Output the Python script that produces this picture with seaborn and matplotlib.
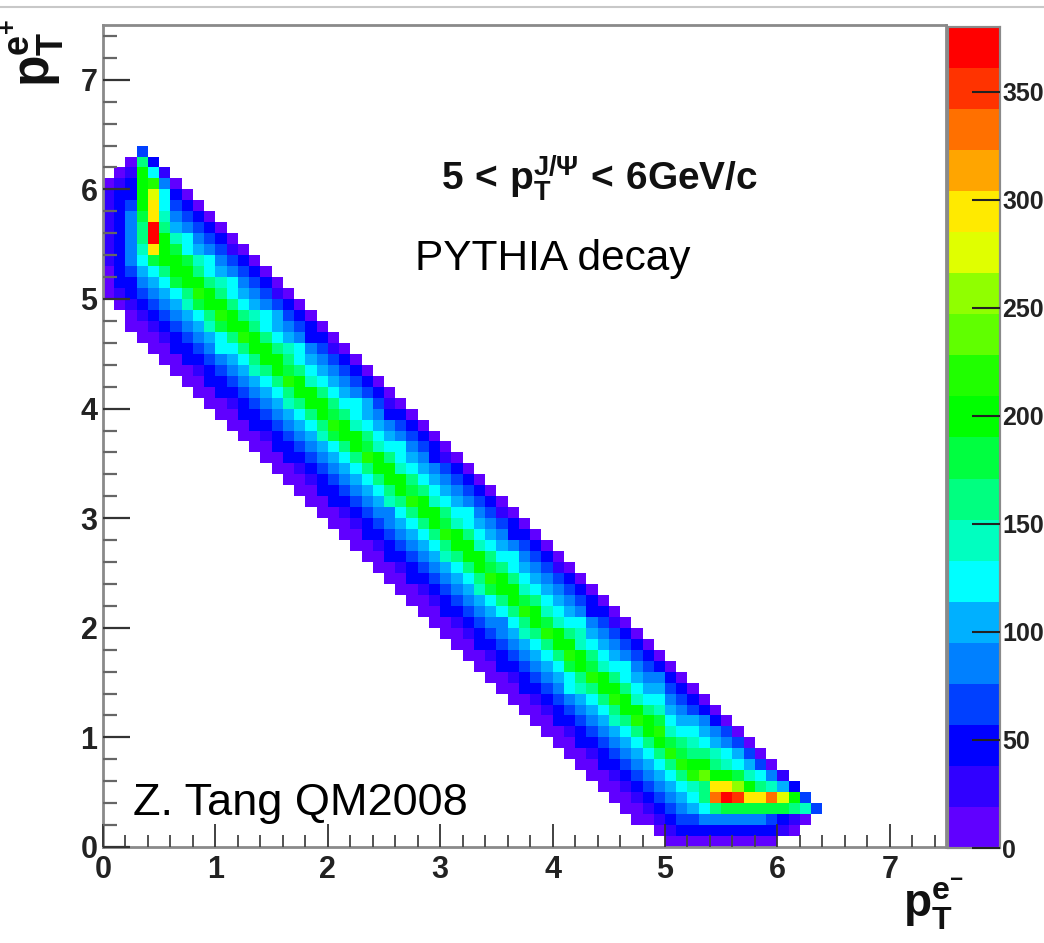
import numpy as np
import pandas as pd
import seaborn as sns
import matplotlib
matplotlib.use("Agg")
import matplotlib.pyplot as plt
from matplotlib.colors import ListedColormap, BoundaryNorm
from matplotlib.lines import Line2D
from matplotlib.ticker import MultipleLocator

# colour levels of the scale, bottom to top
level_colors = ["#6000ff", "#3000ff", "#0000ff", "#0040ff", "#0080ff", "#00b0ff", "#00ffff",
                "#00ffc0", "#00ff80", "#00ff40", "#00ff00", "#20ff00", "#60ff00", "#90ff00",
                "#e0ff00", "#ffea00", "#ffa500", "#ff7000", "#ff3300", "#ff0000"]
scale_top = 380
scale_ticks = [0, 50, 100, 150, 200, 250, 300, 350]
axis_ticks = [0, 1, 2, 3, 4, 5, 6, 7]

# counts per 0.1 x 0.1 cell: (x column, first y row, values going up)
left_columns = [
    (0, 50, [12, 15, 18, 25, 30, 30, 32, 30, 25, 20, 10]),
    (1, 49, [12, 30, 40, 45, 50, 52, 50, 55, 50, 45, 40, 25, 12]),
    (2, 47, [12, 12, 30, 40, 55, 65, 78, 88, 92, 90, 80, 70, 55, 40, 25, 12]),
    (3, 46, [12, 12, 35, 50, 65, 85, 100, 120, 150, 165, 170, 180, 190, 195, 190, 190, 170, 60]),
    (4, 45, [12, 12, 35, 50, 60, 80, 100, 125, 175, 300, 370, 370, 300, 285, 270, 210, 130, 40]),
    (5, 44, [12, 12, 35, 50, 65, 85, 100, 125, 165, 195, 205, 190, 170, 150, 130, 115, 85, 25]),
]
# columns x = 0.6 ... 4.4; each list runs across the band, from just below x+y = 5 upwards
mid_columns = [
    [12, 12, 38, 52, 72, 88, 112, 132, 172, 204, 205, 175, 138, 112, 88, 65, 40, 12],
    [12, 12, 40, 50, 72, 92, 108, 136, 168, 200, 208, 178, 132, 118, 90, 62, 42, 14],
    [12, 14, 36, 55, 68, 90, 112, 130, 176, 210, 198, 165, 138, 108, 88, 68, 38, 12],
    [12, 12, 40, 50, 75, 90, 104, 140, 165, 202, 206, 168, 130, 114, 94, 62, 44, 15],
    [12, 12, 38, 56, 66, 88, 115, 126, 178, 212, 194, 170, 134, 104, 84, 66, 40, 13],
    [12, 15, 35, 50, 72, 94, 106, 132, 160, 198, 205, 160, 132, 116, 90, 60, 36, 12],
    [12, 12, 38, 54, 62, 84, 108, 124, 170, 214, 192, 166, 124, 108, 86, 70, 42, 14],
    [12, 12, 40, 48, 70, 88, 100, 138, 162, 200, 200, 160, 136, 102, 92, 60, 38, 12],
    [12, 13, 34, 56, 68, 82, 112, 120, 168, 208, 194, 155, 128, 114, 82, 64, 44, 15],
    [12, 12, 38, 50, 60, 92, 102, 130, 155, 198, 208, 165, 124, 104, 96, 58, 36, 12],
    [12, 14, 40, 46, 66, 80, 106, 135, 170, 212, 188, 158, 134, 110, 80, 68, 40, 13],
    [12, 12, 34, 52, 72, 86, 98, 122, 160, 196, 204, 165, 120, 116, 90, 62, 42, 16],
    [12, 12, 36, 48, 60, 90, 110, 126, 155, 206, 196, 150, 130, 102, 88, 56, 38, 12],
    [12, 15, 38, 55, 64, 78, 100, 138, 165, 202, 192, 160, 122, 108, 94, 66, 44, 14],
    [12, 12, 42, 46, 70, 84, 96, 120, 172, 214, 186, 152, 128, 112, 78, 60, 36, 12],
    [12, 12, 32, 50, 62, 92, 108, 124, 155, 196, 206, 165, 118, 100, 90, 70, 40, 13],
    [12, 13, 36, 52, 58, 80, 104, 132, 160, 204, 194, 148, 132, 116, 84, 58, 42, 15],
    [12, 12, 40, 46, 68, 76, 98, 118, 168, 210, 184, 158, 122, 104, 96, 62, 38, 12],
    [12, 14, 34, 56, 60, 88, 112, 128, 152, 194, 204, 150, 116, 110, 86, 66, 44, 14],
    [12, 12, 38, 48, 66, 82, 94, 136, 164, 206, 190, 162, 126, 98, 80, 54, 36, 12],
    [12, 12, 35, 50, 72, 80, 106, 122, 156, 198, 208, 145, 130, 114, 92, 64, 40, 13],
    [12, 15, 41, 46, 60, 90, 96, 130, 170, 214, 188, 156, 118, 106, 88, 60, 42, 16],
    [12, 12, 33, 54, 64, 84, 110, 116, 152, 196, 198, 162, 124, 100, 82, 68, 38, 12],
    [12, 12, 37, 50, 70, 78, 100, 126, 162, 206, 192, 148, 132, 112, 94, 56, 44, 14],
    [12, 13, 39, 46, 62, 92, 96, 138, 168, 212, 186, 158, 116, 108, 84, 62, 36, 12],
    [12, 12, 34, 52, 58, 80, 108, 120, 155, 194, 204, 146, 128, 102, 90, 70, 40, 13],
    [12, 14, 36, 48, 68, 86, 102, 128, 165, 208, 190, 156, 120, 116, 78, 58, 42, 15],
    [12, 12, 42, 54, 60, 76, 98, 134, 158, 200, 200, 150, 126, 104, 92, 64, 38, 12],
    [12, 12, 32, 46, 66, 90, 112, 118, 172, 212, 184, 160, 114, 110, 86, 60, 44, 14],
    [12, 15, 38, 50, 72, 82, 94, 130, 152, 194, 206, 152, 130, 98, 88, 66, 36, 12],
    [12, 12, 36, 56, 60, 78, 106, 124, 162, 206, 194, 156, 122, 114, 82, 54, 40, 13],
    [12, 12, 40, 46, 64, 94, 100, 136, 168, 214, 188, 146, 118, 106, 94, 62, 42, 16],
    [12, 13, 34, 52, 70, 78, 110, 120, 155, 198, 200, 162, 130, 100, 84, 68, 38, 12],
    [12, 12, 37, 48, 62, 88, 98, 132, 165, 210, 186, 150, 116, 112, 90, 58, 44, 14],
    [12, 14, 41, 54, 58, 84, 104, 126, 154, 196, 206, 148, 128, 104, 80, 64, 36, 12],
    [12, 12, 33, 46, 68, 80, 114, 122, 172, 216, 190, 158, 120, 108, 92, 60, 40, 13],
    [12, 12, 38, 50, 74, 92, 96, 134, 158, 202, 196, 146, 134, 116, 86, 70, 42, 15],
    [12, 15, 36, 56, 60, 78, 108, 118, 164, 212, 186, 156, 114, 102, 88, 56, 38, 12],
    [12, 12, 40, 48, 66, 86, 102, 128, 156, 196, 204, 150, 126, 110, 82, 62, 44, 14],
]
# columns x = 4.5 ... 6.0 above row 6; shortened because the band meets the bottom rows
right_columns = [
    [36, 52, 70, 84, 100, 138, 168, 212, 190, 155, 122, 100, 90, 66, 36, 12],
    [50, 66, 90, 108, 125, 155, 204, 198, 160, 118, 114, 84, 58, 42, 14],
    [68, 84, 100, 130, 165, 214, 194, 150, 128, 104, 92, 64, 38, 12],
    [88, 106, 124, 158, 200, 208, 156, 124, 98, 86, 60, 40, 15],
    [108, 125, 155, 200, 216, 180, 145, 118, 110, 80, 44, 12],
    [130, 165, 210, 182, 150, 122, 104, 85, 60, 40, 13],
    [170, 214, 184, 152, 126, 110, 90, 64, 42, 14],
    [220, 192, 162, 136, 118, 96, 66, 44, 12],
    [232, 196, 152, 125, 105, 82, 50, 14],
    [205, 165, 135, 110, 85, 50, 14],
    [195, 150, 120, 90, 60, 14],
    [175, 130, 95, 60, 15],
    [150, 100, 60, 15],
    [120, 65, 15],
    [85, 15],
    [20],
]
# bottom rows y = 0 ... 0.5: (first x column, row, values going right)
bottom_rows = [
    (50, 0, [12, 14, 15, 14, 15, 16, 15, 14, 13, 10]),
    (49, 1, [12, 30, 40, 45, 50, 50, 55, 55, 50, 50, 45, 30, 12]),
    (47, 2, [12, 12, 30, 45, 60, 70, 85, 90, 90, 90, 85, 80, 70, 55, 35, 15]),
    (46, 3, [12, 12, 35, 50, 65, 85, 100, 120, 170, 185, 185, 185, 180, 175, 180, 170, 150, 60]),
    (45, 4, [12, 12, 35, 50, 65, 80, 100, 120, 170, 330, 370, 350, 300, 285, 330, 270, 190, 70]),
    (44, 5, [12, 12, 35, 50, 65, 80, 95, 115, 135, 170, 290, 300, 250, 200, 170, 150, 110, 40]),
]

n_bins = 75
counts = np.zeros((n_bins, n_bins))
for col, row, values in left_columns:
    counts[row:row + len(values), col] = values
for offset, values in enumerate(mid_columns):
    col = 6 + offset
    row = 43 - offset
    counts[row:row + len(values), col] = values
for offset, values in enumerate(right_columns):
    col = 45 + offset
    counts[6:6 + len(values), col] = values
for col, row, values in bottom_rows:
    counts[row, col:col + len(values)] = values

sns.set_theme(style="white")
plt.rcParams["font.family"] = ["Liberation Sans", "DejaVu Sans"]
plt.rcParams["mathtext.fontset"] = "custom"
plt.rcParams["mathtext.bf"] = "Liberation Sans:bold"
plt.rcParams["mathtext.rm"] = "Liberation Sans"
plt.rcParams["mathtext.it"] = "Liberation Sans:italic"

W, H = 1044, 943
fig = plt.figure(figsize=(W / 100, H / 100), dpi=100)
ax = fig.add_axes([103 / W, (H - 847) / H, 843 / W, 822 / H])
cax = fig.add_axes([948 / W, (H - 848) / H, 52 / W, 821 / H])

table = pd.DataFrame(counts)
cmap = ListedColormap(level_colors)
norm = BoundaryNorm(np.linspace(0, scale_top, len(level_colors) + 1), cmap.N)
sns.heatmap(table, mask=table == 0, cmap=cmap, norm=norm, ax=ax, cbar_ax=cax,
            xticklabels=False, yticklabels=False,
            cbar_kws={"ticks": scale_ticks, "spacing": "proportional"})

ax.set_xlim(0, n_bins)
ax.set_ylim(0, n_bins)
ax.set_axisbelow(False)
GREY = "#8a8a8a"
for side in ["left", "top", "bottom", "right"]:
    ax.spines[side].set_visible(True)
    ax.spines[side].set_color(GREY)
    ax.spines[side].set_linewidth(2)
ax.xaxis.set_minor_locator(MultipleLocator(2))
ax.yaxis.set_minor_locator(MultipleLocator(2))
ax.set_xticks([t * 10 for t in axis_ticks])
ax.set_yticks([t * 10 for t in axis_ticks])
tick_font = dict(fontweight="bold", fontsize=22, color="#222222")
ax.set_xticklabels([str(t) for t in axis_ticks], **tick_font)
ax.set_yticklabels([str(t) for t in axis_ticks], **tick_font)
ax.tick_params(axis="x", which="major", direction="in", length=16.5, width=1.3, color="#333333", pad=6,
               bottom=True)
ax.tick_params(axis="x", which="minor", direction="in", length=8.6, width=1.3, color="#444444", bottom=True)
ax.tick_params(axis="y", which="major", direction="in", length=19.4, width=1.6, color="#333333", pad=4,
               left=True)
ax.tick_params(axis="y", which="minor", direction="in", length=10, width=1.6, color="#666666", left=True)

cax.set_axisbelow(False)
cax.yaxis.set_ticks_position("right")
cax.set_yticks(scale_ticks)
cax.set_yticklabels([str(t) for t in scale_ticks], fontweight="bold", fontsize=18, color="#222222")
cax.tick_params(axis="y", which="major", direction="in", length=20, width=1.5, color="#222222", pad=1.5, right=True)
cax.minorticks_off()
for side in cax.spines.values():
    side.set_visible(True)
    side.set_color(GREY)
    side.set_linewidth(1.5)

fig.add_artist(Line2D([0, 1], [1 - 6.5 / H, 1 - 6.5 / H], color="#c8c8c8", lw=1.5))


def at(px, py):
    return px / W, 1 - py / H


fig.text(*at(441, 190), r"$\mathbf{5\,<\,p_{T}^{J/\Psi}\,<\,6GeV/c}$", fontsize=28, color="#111111",
         ha="left", va="baseline")
fig.text(*at(415, 270), "PYTHIA decay", fontsize=30.5, color="black", ha="left", va="baseline")
fig.text(*at(133, 815), "Z. Tang QM2008", fontsize=32.5, color="black", ha="left", va="baseline")
fig.text(*at(903, 918), r"$\mathbf{p_{T}^{e^{-}}}$", fontsize=33, color="#111111", ha="left", va="baseline")
fig.text(*at(50, 87), r"$\mathbf{p_{T}^{e^{+}}}$", fontsize=37, color="#111111", rotation=90,
         ha="left", va="baseline", rotation_mode="anchor")

fig.savefig("out.png", dpi=100)
